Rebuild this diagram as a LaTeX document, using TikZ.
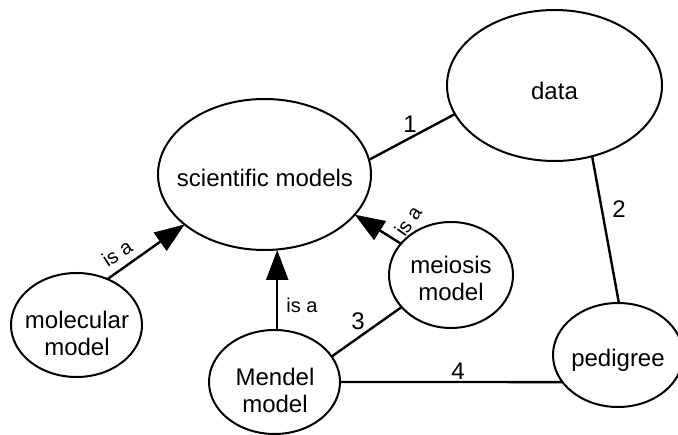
\documentclass[tikz,border=0pt]{standalone}
\usepackage{fontspec}
\setmainfont{Liberation Sans}
\usetikzlibrary{shapes.geometric,arrows.meta}
\begin{document}
\begin{tikzpicture}[x=1pt,y=-1pt,
  ell/.style={ellipse,draw,line width=2pt,inner sep=0pt,outer sep=0pt},
  conn/.style={line width=2.4pt},
  isa/.style={conn,-{Triangle[length=30pt,width=22pt]}},
  txt/.style={font=\fontsize{24}{27}\selectfont,align=center,inner sep=0pt},
  num/.style={font=\fontsize{24}{27}\selectfont,inner sep=0pt},
  lbl/.style={font=\fontsize{20}{22}\selectfont,inner sep=0pt}]
\useasboundingbox (0,0) rectangle (678,435);
% ellipses
\node[ell,minimum width=213pt,minimum height=151pt] (sci) at (264.5,174.5) {};
\node[ell,minimum width=215pt,minimum height=151pt] (data) at (554.5,85.5) {};
\node[ell,minimum width=131pt,minimum height=104pt] (mol) at (76.5,325) {};
\node[ell,minimum width=124pt,minimum height=106pt] (mei) at (451,275) {};
\node[ell,minimum width=131pt,minimum height=104pt] (men) at (274.5,382) {};
\node[ell,minimum width=130pt,minimum height=104pt] (ped) at (618,355) {};
% texts
\node[txt] (scit) at (265,178) {scientific models};
\node[txt] (datat) at (554.5,91) {data};
\node[txt] (molt) at (77,333) {molecular\\model};
\node[txt] (meit) at (451,278) {meiosis\\model};
\node[txt] (ment) at (275,390) {Mendel\\model};
\node[txt] (pedt) at (618,360) {pedigree};
% connectors
\draw[isa] (mol.56) -- (sci.212);
\draw[isa] (mei.148) -- (sci.-24);
\draw[isa] (men.87) -- (men.87 |- sci.south);
\draw[conn] (sci.8) -- (data.196);
\draw[conn] (data.-62) -- (ped.89);
\draw[conn] (men.24) -- (mei.213);
\draw[conn] (men.east) -- (ped.206);
% labels
\node[num] (n1) at (410,124) {1};
\node[num] (n2) at (619,209) {2};
\node[num] (n3) at (358,321) {3};
\node[num] (n4) at (458,371) {4};
\node[lbl,rotate=33] (isa1) at (117,253) {is a};
\node[lbl] (isa2) at (302,305) {is a};
\node[lbl,rotate=55] (isa3) at (408,221) {is a};
\end{tikzpicture}
\end{document}
